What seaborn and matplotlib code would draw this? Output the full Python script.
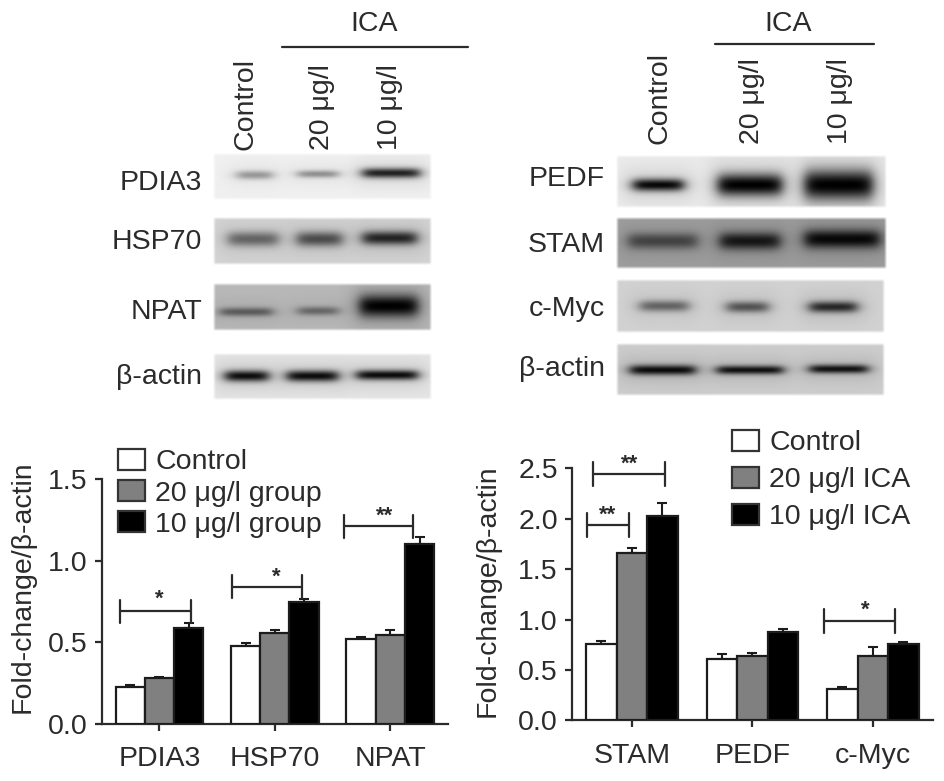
import numpy as np
import pandas as pd
import matplotlib
matplotlib.use("Agg")
import matplotlib.pyplot as plt
import seaborn as sns

sns.set_style("ticks")
INK = "#2b2b2b"
plt.rcParams.update({"font.family": ["Liberation Sans", "DejaVu Sans"], "font.size": 20.5,
                     "text.color": INK, "axes.labelcolor": INK, "xtick.labelcolor": INK,
                     "ytick.labelcolor": INK, "axes.edgecolor": INK, "xtick.color": INK,
                     "ytick.color": INK})

W, H = 945, 781

# ---- bar data ----
left_groups = ["PDIA3", "HSP70", "NPAT"]
left_treatments = ["Control", "20 μg/l group", "10 μg/l group"]
left_control = [0.225, 0.475, 0.52]
left_20 = [0.28, 0.555, 0.545]
left_10 = [0.585, 0.745, 1.10]
left_control_err = [0.015, 0.02, 0.01]
left_20_err = [0.005, 0.02, 0.03]
left_10_err = [0.035, 0.02, 0.045]

right_groups = ["STAM", "PEDF", "c-Myc"]
right_treatments = ["Control", "20 μg/l ICA", "10 μg/l ICA"]
right_control = [0.76, 0.61, 0.31]
right_20 = [1.66, 0.64, 0.64]
right_10 = [2.03, 0.88, 0.76]
right_control_err = [0.03, 0.05, 0.02]
right_20_err = [0.05, 0.03, 0.09]
right_10_err = [0.13, 0.03, 0.02]

palette = ["white", "#808080", "black"]

# brackets: x start, x end, y level, label, label x, label y
left_brackets = [(-0.34, 0.27, 0.69, "*", -0.005, 0.76),
                 (0.63, 1.236, 0.84, "*", 1.01, 0.90),
                 (1.60, 2.20, 1.21, "**", 1.95, 1.27)]
right_brackets = [(-0.37, -0.028, 1.94, "**", -0.20, 2.03),
                  (-0.32, 0.2775, 2.44, "**", -0.02, 2.54),
                  (1.597, 2.188, 0.985, "*", 1.94, 1.09)]

# ---- blot data: name, background level, band darkness per lane, band half-thickness per lane ----
left_blot_names = ["PDIA3", "HSP70", "NPAT", "β-actin"]
left_blot_bg = [0.94, 0.83, 0.72, 0.90]
left_blot_dark = [[0.35, 0.38, 0.85], [0.50, 0.62, 0.82], [0.48, 0.42, 1.0], [0.95, 0.95, 0.95]]
left_blot_thick = [[3.5, 3, 4], [6, 6, 5.5], [3.5, 3.5, 9], [4.5, 4.5, 4]]
right_blot_names = ["PEDF", "STAM", "c-Myc", "β-actin"]
right_blot_bg = [0.92, 0.62, 0.82, 0.80]
right_blot_dark = [[0.97, 1.0, 1.0], [0.55, 0.85, 0.95], [0.50, 0.58, 0.80], [0.95, 0.92, 0.92]]
right_blot_thick = [[5, 9, 12], [6.5, 7, 7.5], [4.5, 4.5, 4.5], [4, 3.5, 3.5]]

# ---- blot layout (figure pixels) ----
left_rows = [(213, 432, 153, 200), (213, 432, 217, 265), (213, 432, 283, 331), (213, 432, 353, 400)]
left_lanes = [[(232, 277), (293, 343), (358, 425)], [(223, 283), (292, 347), (358, 422)],
              [(215, 277), (293, 343), (355, 423)], [(220, 273), (282, 343), (352, 423)]]
left_centres = [[175, 174, 173], [239, 239, 238], [312, 311, 306], [376, 376, 375]]
right_rows = [(616, 887, 155, 208), (616, 887, 217, 269), (616, 885, 279, 333), (616, 885, 343, 396)]
right_lanes = [[(628, 688), (713, 787), (800, 878)], [(623, 702), (715, 785), (800, 885)],
               [(635, 693), (722, 773), (805, 862)], [(625, 700), (712, 788), (805, 873)]]
right_centres = [[185, 185, 185], [241, 241, 239], [306, 307, 307], [370, 370, 369]]
left_label_y = [180, 239, 309, 374]
right_label_y = [176, 242, 306, 366]


def px_axes(fig, x0, y_top, x1, y_bottom):
    return fig.add_axes([x0 / W, 1 - y_bottom / H, (x1 - x0) / W, (y_bottom - y_top) / H])


def blot(ax, box, lanes, centres, bg, dark, thick):
    x0, x1, y0, y1 = box
    xs = np.arange(x0, x1 + 1)
    ys = np.arange(y0, y1 + 1)
    X, Y = np.meshgrid(xs, ys)
    transmit = np.ones_like(X, dtype=float)
    for (a, b), c, d, t in zip(lanes, centres, dark, thick):
        gx = 1 / (1 + np.exp((a + 5 - X) / 3.5)) * 1 / (1 + np.exp((X - b + 5) / 3.5))
        gy = np.exp(-np.abs((Y - c) / (1.25 * t)) ** 2.1)
        halo_x = 1 / (1 + np.exp((a - 4 - X) / 5)) * 1 / (1 + np.exp((X - b - 4) / 5))
        halo_y = np.exp(-((Y - c) / (2.6 * t + 4)) ** 2)
        transmit *= (1 - d * gx * gy) * (1 - 0.12 * d * halo_x * halo_y)
    ramp_x = np.clip(np.minimum(X - x0, x1 - X) / 3 + 0.2, 0, 1)
    ramp_y = np.clip(np.minimum(Y - y0, y1 - Y) / 3 + 0.2, 0, 1)
    ax.imshow(bg * transmit, cmap="gray", vmin=0, vmax=1, extent=(x0, x1, y1, y0),
              alpha=ramp_x * ramp_y, aspect="auto", interpolation="bilinear", zorder=1)


fig = plt.figure(figsize=(W / 100, H / 100), dpi=100)
ov = fig.add_axes([0, 0, 1, 1], zorder=0)
ov.set_axis_off()

for rows, lanes, centres, bgs, darks, thicks in [
    (left_rows, left_lanes, left_centres, left_blot_bg, left_blot_dark, left_blot_thick),
    (right_rows, right_lanes, right_centres, right_blot_bg, right_blot_dark, right_blot_thick),
]:
    for r, l, c, b, d, t in zip(rows, lanes, centres, bgs, darks, thicks):
        blot(ov, r, l, c, b, d, t)
ov.set_xlim(0, W)
ov.set_ylim(H, 0)

for name, y in zip(left_blot_names, left_label_y):
    ov.text(202, y, name, ha="right", va="center_baseline")
for name, y in zip(right_blot_names, right_label_y):
    ov.text(605, y, name, ha="right", va="center_baseline")

lane_labels = ["Control", "20 μg/l", "10 μg/l"]
for label, x in zip(lane_labels, [245, 322, 390]):
    ov.text(x, 150, label, rotation=90, ha="center", va="bottom")
for label, x in zip(lane_labels, [659, 752, 840]):
    ov.text(x, 144, label, rotation=90, ha="center", va="bottom")
ov.text(374, 24, "ICA", ha="center", va="center")
ov.text(788, 24, "ICA", ha="center", va="center")
ov.plot([282, 468], [47, 47], color=INK, lw=1.6)
ov.plot([715, 874], [44, 44], color=INK, lw=1.6)


def bar_panel(box, groups, treatments, series, errors, ymax, yticks, brackets,
              leg_xy, leg_spacing, ylabel_xy):
    ax = px_axes(fig, *box)
    ax.patch.set_alpha(0)
    df = pd.DataFrame({
        "group": groups * 3,
        "treatment": [t for t in treatments for _ in groups],
        "value": np.concatenate(series),
    })
    sns.barplot(data=df, x="group", y="value", hue="treatment", palette=palette, width=0.76,
                gap=0, errorbar=None, edgecolor="#1c1c1c", linewidth=1.6, saturation=1,
                zorder=3, ax=ax)
    for cont, err in zip(ax.containers, errors):
        xc = [b.get_x() + b.get_width() / 2 for b in cont]
        yv = [b.get_height() for b in cont]
        ax.errorbar(xc, yv, yerr=[np.zeros(len(err)), err], fmt="none", ecolor="#1c1c1c",
                    elinewidth=1.5, capsize=3.5, capthick=1.5, zorder=2)
    ax.set_xlim(-0.5, 2.5)
    ax.set_ylim(0, ymax)
    ax.set_yticks(yticks)
    ax.set_yticklabels([f"{t:.1f}" for t in yticks])
    sns.despine(ax=ax)
    for s in ("left", "bottom"):
        ax.spines[s].set_linewidth(1.6)
        ax.spines[s].set_color(INK)
    ax.tick_params(axis="both", width=1.6, length=5, labelsize=20.5)
    ax.tick_params(axis="y", pad=5)
    ax.tick_params(axis="x", pad=11)
    ax.set_xlabel("")
    ax.set_ylabel("Fold-change/β-actin", fontsize=20.5)
    ax.yaxis.set_label_coords(ylabel_xy[0] / W, 1 - ylabel_xy[1] / H, transform=fig.transFigure)
    ax.yaxis.label.set_verticalalignment("center")

    cap = 0.095 * ymax / 1.5 * 0.75
    for x0, x1, y, label, lx, ly in brackets:
        ax.plot([x0, x1], [y, y], color=INK, lw=1.6, clip_on=False, zorder=5)
        for xx in (x0, x1):
            ax.plot([xx, xx], [y - cap, y + cap], color=INK, lw=1.6, clip_on=False, zorder=5)
        ax.text(lx, ly, label, ha="center", va="center", fontsize=16, fontweight="bold",
                clip_on=False)

    handles, labels = ax.get_legend_handles_labels()
    leg = ax.legend(handles, labels, loc="upper left", frameon=False, fontsize=20.5,
                    bbox_to_anchor=(leg_xy[0] / W, 1 - leg_xy[1] / H),
                    bbox_transform=fig.transFigure, borderaxespad=0, borderpad=0,
                    handlelength=0.95, handleheight=0.75, handletextpad=0.35,
                    labelspacing=leg_spacing)
    for h in leg.get_patches():
        h.set_linewidth(1.6)
        h.set_edgecolor("#333333")
    return ax


bar_panel((101.7, 479, 448, 723.7), left_groups, left_treatments,
          [left_control, left_20, left_10], [left_control_err, left_20_err, left_10_err],
          1.5, [0.0, 0.5, 1.0, 1.5], left_brackets, (118, 449), 0.17, (23, 587))
bar_panel((571.7, 468.3, 933, 720.3), right_groups, right_treatments,
          [right_control, right_20, right_10], [right_control_err, right_20_err, right_10_err],
          2.5, [0.0, 0.5, 1.0, 1.5, 2.0, 2.5], right_brackets, (732, 430), 0.37, (488, 591))

fig.savefig("out.png", dpi=100)
